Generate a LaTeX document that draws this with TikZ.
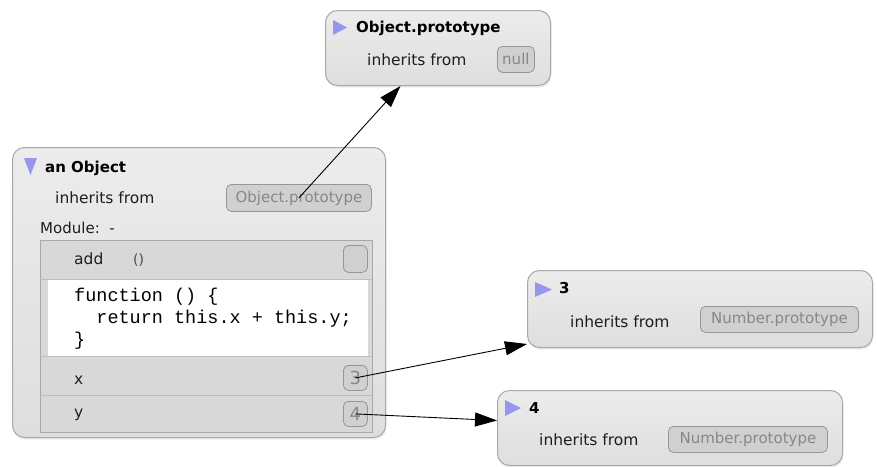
\documentclass[tikz,border=0pt]{standalone}
\usepackage{fontspec}
\setmainfont{DejaVu Sans}
\setmonofont{Liberation Mono}
\usetikzlibrary{arrows.meta,shadows}
\definecolor{boxtop}{RGB}{236,236,236}
\definecolor{boxbot}{RGB}{222,222,222}
\definecolor{boxline}{RGB}{168,168,168}
\definecolor{rowfill}{RGB}{216,216,216}
\definecolor{rowline}{RGB}{190,190,190}
\definecolor{pillfill}{RGB}{208,208,208}
\definecolor{pillline}{RGB}{150,150,150}
\definecolor{pilltext}{RGB}{135,135,135}
\definecolor{tricol}{RGB}{150,150,238}
\definecolor{lbltext}{RGB}{30,30,30}
\begin{document}
\begin{tikzpicture}[x=1pt,y=-1pt,
  objbox/.style={draw=boxline, line width=1pt, rounded corners=12pt, top color=boxtop, bottom color=boxbot,
    drop shadow={opacity=0.15, shadow xshift=1pt, shadow yshift=-2pt}, anchor=north west, inner sep=0pt},
  pill/.style={draw=pillline, fill=pillfill, rounded corners=5pt, line width=0.8pt, text=pilltext,
    font=\fontsize{15}{18}\selectfont, inner sep=0pt, anchor=north west},
  ttl/.style={font=\fontsize{15}{18}\selectfont\bfseries, anchor=base west, inner sep=0pt},
  lbl/.style={font=\fontsize{15.5}{18}\selectfont, anchor=base west, inner sep=0pt, text=lbltext},
  codetxt/.style={font=\fontsize{18.5}{22}\selectfont\ttfamily, anchor=base west, inner sep=0pt},
  link/.style={line width=0.9pt, -{Triangle[length=22pt,width=14pt]}},
  tri/.style={fill=tricol, draw=none}
]
\useasboundingbox (0,0) rectangle (877,466);

% ---------- Object.prototype ----------
\node[objbox, minimum width=225pt, minimum height=75pt] (op) at (325,10) {};
\fill[tri] (333,20) -- (333,35) -- (347,27.5) -- cycle;
\node[ttl] (optitle) at (356,32) {Object.prototype};
\node[lbl] (opinh) at (367,65) {inherits from};
\node[pill, minimum width=37pt, minimum height=26pt] (pnull) at (497,46) {null};

% ---------- an Object ----------
\node[objbox, minimum width=373pt, minimum height=290pt] (ao) at (12,147) {};
\fill[tri] (24,158) -- (37,158) -- (30.5,175) -- cycle;
\node[ttl] (aotitle) at (45,172) {an Object};
\node[lbl] (aoinh) at (55,203) {inherits from};
\node[pill, minimum width=145pt, minimum height=27pt] (pop) at (226,184) {Object.prototype};
\node[lbl, font=\fontsize{15}{18}\selectfont] (module) at (40,233) {Module:\ \ -};

% table
\filldraw[fill=rowfill, draw=boxline, line width=0.9pt] (40,240) rectangle (372,432);
\fill[white] (48,279) rectangle (368,356);
\draw[rowline, line width=0.9pt] (40,279) -- (372,279);
\draw[rowline, line width=0.9pt] (40,356) -- (372,356);
\draw[rowline, line width=0.9pt] (40,395) -- (372,395);

\node[lbl] (addlbl) at (74,264) {add};
\node[lbl, font=\fontsize{14}{16}\selectfont, text=black!70] (addpar) at (133,264) {()};
\node[pill, minimum width=24pt, minimum height=27pt] (addbtn) at (343,245) {};

\node[codetxt] (code1) at (74,301) {function () \{};
\node[codetxt] (code2) at (96.2,323) {return this.x + this.y;};
\node[codetxt] (code3) at (74,345) {\}};

\node[lbl] (xlbl) at (74,384) {x};
\node[pill, minimum width=24pt, minimum height=25pt, font=\fontsize{18}{20}\selectfont] (p3) at (343,365) {3};
\node[lbl] (ylbl) at (74,417) {y};
\node[pill, minimum width=24pt, minimum height=25pt, font=\fontsize{18}{20}\selectfont] (p4) at (343,401) {4};

% ---------- 3 ----------
\node[objbox, minimum width=345pt, minimum height=77pt] (b3) at (527,270) {};
\fill[tri] (535,282) -- (535,297) -- (552,289.5) -- cycle;
\node[ttl] (b3title) at (559,293) {3};
\node[lbl] (b3inh) at (570,327) {inherits from};
\node[pill, minimum width=158pt, minimum height=26pt] (np3) at (700,306) {Number.prototype};

% ---------- 4 ----------
\node[objbox, minimum width=345pt, minimum height=75pt] (b4) at (497,390) {};
\fill[tri] (505,400) -- (505,416) -- (521,408) -- cycle;
\node[ttl] (b4title) at (529,413) {4};
\node[lbl] (b4inh) at (539,445) {inherits from};
\node[pill, minimum width=159pt, minimum height=26pt] (np4) at (668,426) {Number.prototype};

% ---------- connectors ----------
\draw[link] (pop.center) -- ([xshift=-37.5pt]op.south);
\draw[link] (p3.center) -- ([yshift=4pt]b3.south west);
\draw[link] (p4.center) -- ([yshift=7.5pt]b4.west);
\end{tikzpicture}
\end{document}
